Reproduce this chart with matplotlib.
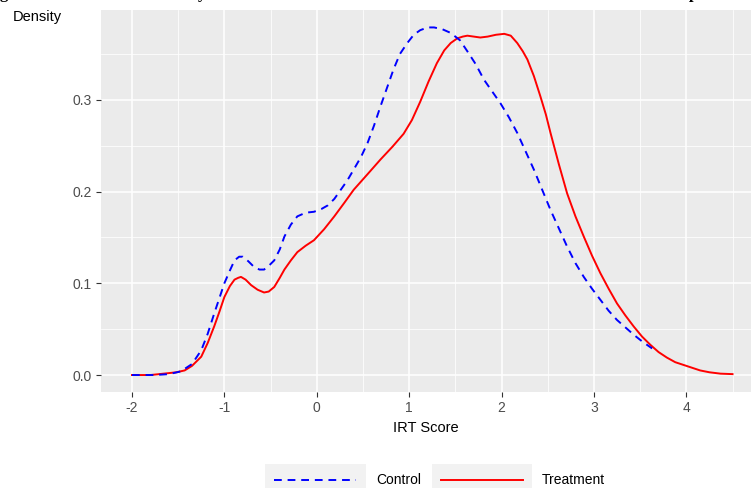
import matplotlib
matplotlib.use("Agg")
import matplotlib.pyplot as plt
from matplotlib.patches import Rectangle
from matplotlib.lines import Line2D

plt.rcParams['font.family'] = ['Liberation Sans', 'DejaVu Sans']

# density curves
ctrl_x = [-2.0, -1.75, -1.6, -1.47, -1.35, -1.25, -1.18, -1.11, -1.05, -1.0, -0.94, -0.89,
          -0.84, -0.80, -0.74, -0.68, -0.62, -0.57, -0.52, -0.46, -0.40, -0.35, -0.28, -0.21,
          -0.12, -0.03, 0.05, 0.12, 0.19, 0.26, 0.33, 0.40, 0.48, 0.55, 0.62, 0.69, 0.76,
          0.83, 0.90, 0.98, 1.05, 1.12, 1.20, 1.27, 1.36, 1.45, 1.55, 1.63, 1.72, 1.81,
          1.90, 1.99, 2.08, 2.17, 2.26, 2.35, 2.44, 2.53, 2.62, 2.71, 2.80, 2.89, 2.98,
          3.07, 3.16, 3.25, 3.34, 3.43, 3.53, 3.63]
ctrl_y = [0.0, 0.0, 0.001, 0.004, 0.012, 0.027, 0.045, 0.067, 0.085, 0.100, 0.114, 0.125,
          0.129, 0.129, 0.124, 0.118, 0.115, 0.115, 0.119, 0.125, 0.137, 0.151, 0.164, 0.173,
          0.177, 0.178, 0.181, 0.185, 0.192, 0.202, 0.212, 0.224, 0.238, 0.253, 0.272, 0.293,
          0.313, 0.333, 0.350, 0.362, 0.371, 0.376, 0.379, 0.379, 0.377, 0.373, 0.365, 0.353,
          0.339, 0.322, 0.309, 0.296, 0.281, 0.264, 0.244, 0.224, 0.202, 0.180, 0.160, 0.140,
          0.122, 0.107, 0.094, 0.082, 0.070, 0.060, 0.052, 0.044, 0.036, 0.029]

treat_x = [-2.0, -1.8, -1.61, -1.52, -1.43, -1.35, -1.25, -1.18, -1.11, -1.05, -1.0, -0.94,
           -0.89, -0.85, -0.82, -0.77, -0.71, -0.64, -0.57, -0.52, -0.46, -0.40, -0.35,
           -0.28, -0.21, -0.12, -0.03, 0.08, 0.19, 0.30, 0.40, 0.55, 0.69, 0.82, 0.94, 1.03,
           1.12, 1.21, 1.30, 1.38, 1.45, 1.52, 1.58, 1.63, 1.70, 1.77, 1.85, 1.94, 2.03,
           2.10, 2.17, 2.23, 2.28, 2.35, 2.42, 2.48, 2.53, 2.62, 2.71, 2.80, 2.89, 2.98,
           3.07, 3.16, 3.25, 3.34, 3.43, 3.52, 3.61, 3.70, 3.79, 3.88, 3.97, 4.06, 4.15,
           4.25, 4.37, 4.5]
treat_y = [0.0, 0.0, 0.002, 0.003, 0.005, 0.010, 0.020, 0.035, 0.053, 0.070, 0.085, 0.097,
           0.104, 0.106, 0.107, 0.104, 0.098, 0.093, 0.090, 0.091, 0.096, 0.106, 0.115,
           0.125, 0.134, 0.141, 0.147, 0.159, 0.173, 0.188, 0.202, 0.219, 0.235, 0.249, 0.263,
           0.278, 0.298, 0.320, 0.340, 0.354, 0.362, 0.367, 0.369, 0.370, 0.369, 0.368,
           0.369, 0.371, 0.372, 0.370, 0.362, 0.353, 0.344, 0.326, 0.304, 0.284, 0.264,
           0.230, 0.198, 0.173, 0.151, 0.130, 0.111, 0.094, 0.078, 0.065, 0.053, 0.042,
           0.033, 0.025, 0.019, 0.014, 0.011, 0.008, 0.005, 0.003, 0.0015, 0.001]

series_names = ["Control", "Treatment"]
x_ticks = [-2, -1, 0, 1, 2, 3, 4]
y_ticks = [0.0, 0.1, 0.2, 0.3]

W, H = 751, 488
fig = plt.figure(figsize=(W / 100, H / 100), dpi=100)
fig.patch.set_facecolor("white")

ax = fig.add_axes([101 / W, 1 - 392 / H, (W - 101) / W, (392 - 10) / H])
ax.set_facecolor("#EBEBEB")
for s in ax.spines.values():
    s.set_visible(False)

ax.set_xlim(-2.335, 4.70)
ax.set_ylim(-0.0185, 0.398)

ax.set_xticks(x_ticks)
ax.set_xticklabels([str(t) for t in x_ticks])
ax.set_yticks(y_ticks)
ax.set_yticklabels(["%.1f" % t for t in y_ticks])
ax.set_xticks([-1.5, -0.5, 0.5, 1.5, 2.5, 3.5, 4.5], minor=True)
ax.set_yticks([0.05, 0.15, 0.25, 0.35], minor=True)

ax.grid(True, which="major", color="white", linewidth=1.1)
ax.grid(True, which="minor", color="white", linewidth=0.55)
ax.set_axisbelow(True)
ax.tick_params(which="major", length=3.5, width=0.8, color="#333333",
               labelcolor="#4D4D4D", labelsize=10, pad=3)
ax.tick_params(which="minor", length=0)

ax.plot(ctrl_x, ctrl_y, color="blue", linewidth=1.4, dashes=(4, 3), label=series_names[0],
        zorder=3)
ax.plot(treat_x, treat_y, color="red", linewidth=1.4, label=series_names[1], zorder=2)

ax.set_xlabel("IRT Score", fontsize=10.5, color="black", labelpad=4)
fig.text(37 / W, 1 - 17 / H, "Density", fontsize=10.5, ha="center", va="center")

# bits of the caption line cut off at the very top
for cx, ch in [(0, "g"), (198, "y"), (689, "p")]:
    fig.text(cx / W, 1 + 1.5 / H, ch, fontsize=12, fontweight="bold",
             family=["Liberation Serif"], ha="left", va="baseline")

# legend drawn by hand, ggplot style with grey key backgrounds
ly = 1 - 480 / H
for x0, x1 in [(265, 366), (432, 532)]:
    fig.patches.append(Rectangle((x0 / W, 0), (x1 - x0) / W, (488 - 464) / H,
                                 transform=fig.transFigure, facecolor="#F2F2F2",
                                 edgecolor="none", zorder=0))
fig.lines.append(Line2D([274 / W, 356 / W], [ly, ly], transform=fig.transFigure,
                        color="blue", linewidth=1.4, dashes=(4, 3)))
fig.lines.append(Line2D([441 / W, 523 / W], [ly, ly], transform=fig.transFigure,
                        color="red", linewidth=1.4))
fig.text(376 / W, ly, series_names[0], fontsize=10, va="center", ha="left")
fig.text(542 / W, ly, series_names[1], fontsize=10, va="center", ha="left")

fig.savefig("out.png", dpi=100)
